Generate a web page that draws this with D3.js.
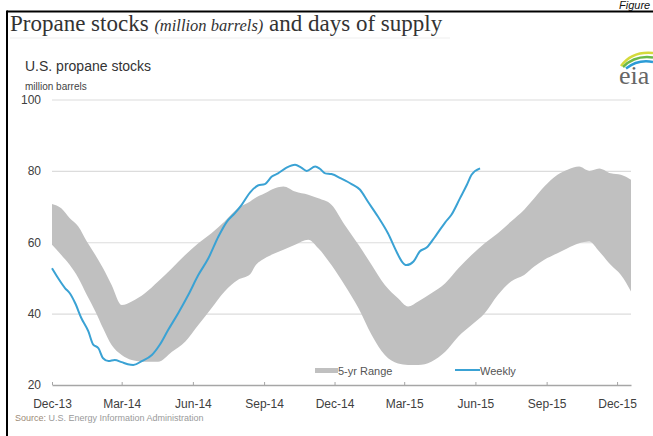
<!DOCTYPE html>
<html>
<head>
<meta charset="utf-8">
<script src="https://cdn.jsdelivr.net/npm/d3@7"></script>
<style>
  html, body { margin: 0; padding: 0; background: #fff; }
  svg { display: block; }
</style>
</head>
<body>
<svg id="chart" width="653" height="436"></svg>
<script>
// ---------------- DATA ----------------
const weeklyDates = [
  "2013-12-01","2013-12-09","2013-12-18","2013-12-24","2013-12-31",
  "2014-01-08","2014-01-17","2014-01-23","2014-01-30","2014-02-05",
  "2014-02-12","2014-02-20","2014-03-01","2014-03-09","2014-03-16",
  "2014-03-27","2014-04-09","2014-04-19","2014-04-30","2014-05-13",
  "2014-05-26","2014-06-08","2014-06-21","2014-07-04","2014-07-15",
  "2014-07-25","2014-08-03","2014-08-14","2014-08-24","2014-09-02",
  "2014-09-11","2014-09-19","2014-09-30","2014-10-11","2014-10-19",
  "2014-10-26","2014-11-06","2014-11-12","2014-11-19","2014-11-27",
  "2014-12-10","2014-12-23","2015-01-03","2015-01-13","2015-01-26",
  "2015-02-08","2015-02-19","2015-02-26","2015-03-04","2015-03-13",
  "2015-03-21","2015-03-30","2015-04-10","2015-04-23","2015-05-01",
  "2015-05-12","2015-05-21","2015-05-27","2015-06-07"
];
const weeklyValues = [
  52.7, 49.9, 47.1, 45.7, 42.9,
  38.7, 35.0, 31.4, 30.3, 27.5,
  26.7, 27.0, 26.4, 25.8, 25.6,
  26.7, 28.4, 31.2, 35.4, 40.1,
  45.2, 50.8, 55.5, 61.6, 65.8,
  68.1, 70.5, 74.0, 75.9, 76.3,
  78.4, 79.3, 80.9, 81.7, 80.9,
  80.0, 81.2, 80.6, 79.3, 79.1,
  77.8, 76.3, 74.7, 71.4, 67.2,
  62.5, 57.4, 54.6, 53.6, 54.6,
  57.4, 58.5, 61.6, 65.6, 67.7,
  72.3, 76.1, 78.9, 80.7
];

const rangeDates = [
  "2013-12-01","2013-12-13","2013-12-24","2014-01-04","2014-01-15",
  "2014-01-26","2014-02-05","2014-02-16","2014-03-01","2014-03-14",
  "2014-03-31","2014-04-17","2014-05-05","2014-05-22","2014-06-08",
  "2014-06-25","2014-07-12","2014-07-29","2014-08-14","2014-08-20",
  "2014-09-02","2014-09-15","2014-09-26","2014-10-11","2014-10-28",
  "2014-11-10","2014-11-27","2014-12-14","2015-01-01","2015-01-18",
  "2015-02-04","2015-02-21","2015-03-06","2015-03-19","2015-04-05",
  "2015-04-23","2015-05-10","2015-05-27","2015-06-13","2015-06-30",
  "2015-07-17","2015-08-03","2015-08-16","2015-08-29","2015-09-15",
  "2015-09-28","2015-10-13","2015-10-26","2015-11-08","2015-11-23",
  "2015-12-06","2015-12-19"
];
const rangeLow = [
  59.3, 56.4, 53.6, 50.0, 45.2,
  40.6, 35.9, 31.2, 28.4, 27.0,
  26.5, 26.5, 29.3, 32.1, 36.8,
  41.5, 46.2, 49.4, 51.0, 53.2,
  55.5, 56.9, 57.9, 59.3, 60.7,
  58.3, 53.6, 48.0, 41.5, 34.0,
  28.4, 26.0, 25.6, 25.6, 26.5,
  29.3, 33.6, 36.8, 40.1, 45.2,
  49.0, 50.8, 53.2, 55.1, 56.9,
  58.3, 59.7, 60.2, 57.4, 53.6,
  50.8, 46.2
];
const rangeHigh = [
  70.7, 69.5, 66.7, 64.4, 60.2,
  56.4, 52.7, 48.0, 42.4, 43.4,
  45.7, 49.0, 52.7, 56.4, 59.7,
  62.5, 65.8, 69.5, 71.4, 72.3,
  73.7, 75.1, 75.6, 74.2, 73.3,
  72.3, 70.5, 64.9, 59.3, 53.6,
  48.0, 44.3, 42.0, 43.4, 45.7,
  48.5, 52.7, 56.4, 59.7, 62.5,
  65.8, 69.1, 72.3, 75.6, 78.9,
  80.3, 81.2, 80.0, 80.7, 79.3,
  78.9, 77.5
];

const xTickDates  = ["2013-12-01","2014-03-01","2014-06-01","2014-09-01","2014-12-01",
                     "2015-03-01","2015-06-01","2015-09-01","2015-12-01"];
const xTickLabels = ["Dec-13","Mar-14","Jun-14","Sep-14","Dec-14",
                     "Mar-15","Jun-15","Sep-15","Dec-15"];
const yTicks = [20, 40, 60, 80, 100];
const xDomain = ["2013-12-01", "2015-12-19"];
const yDomain = [20, 100];

// ---------------- CHART ----------------
const parse = d3.timeParse("%Y-%m-%d");
const svg = d3.select("#chart");
const sans = "Arial, 'Liberation Sans', Helvetica, sans-serif";
const serif = "'Times New Roman', 'Liberation Serif', serif";

const L = 52, R = 631, T = 99.5, B = 385;
const x = d3.scaleTime().domain(xDomain.map(parse)).range([L, R]);
const y = d3.scaleLinear().domain(yDomain).range([B, T]);

svg.append("rect").attr("width", 653).attr("height", 436).attr("fill", "#fff");

// Frame
svg.append("line").attr("x1", 7).attr("x2", 653).attr("y1", 11.5).attr("y2", 11.5)
  .attr("stroke", "#000").attr("stroke-width", 2);
svg.append("line").attr("x1", 7).attr("x2", 7).attr("y1", 10.5).attr("y2", 436)
  .attr("stroke", "#000").attr("stroke-width", 2);

// "Figure" top right
svg.append("text").attr("x", 619).attr("y", 9)
  .attr("font-family", sans).attr("font-style", "italic").attr("font-size", 11)
  .attr("fill", "#111").text("Figure");

// Title
const title = svg.append("text").attr("x", 10).attr("y", 31)
  .attr("font-family", serif).attr("fill", "#333");
title.append("tspan").attr("font-size", 23).text("Propane stocks ");
title.append("tspan").attr("font-size", 16.5).attr("font-style", "italic").text("(million barrels)");
title.append("tspan").attr("font-size", 23).text(" and days of supply");

svg.append("line").attr("x1", 10).attr("x2", 450).attr("y1", 38).attr("y2", 38)
  .attr("stroke", "#efefef").attr("stroke-width", 1);

// Subtitle
svg.append("text").attr("x", 25).attr("y", 71)
  .attr("font-family", sans).attr("font-size", 14).attr("fill", "#333")
  .text("U.S. propane stocks");
svg.append("text").attr("x", 25).attr("y", 90)
  .attr("font-family", sans).attr("font-size", 10).attr("fill", "#444")
  .text("million barrels");

// EIA logo
const logo = svg.append("g");
logo.append("path").attr("d", "M621,66 Q632,51 653,53").attr("fill", "none")
  .attr("stroke", "#d4da3c").attr("stroke-width", 2.5);
logo.append("path").attr("d", "M623,67 Q635,55 653,57.5").attr("fill", "none")
  .attr("stroke", "#6cb94a").attr("stroke-width", 2.5);
logo.append("path").attr("d", "M626,68.5 Q638,59 653,62").attr("fill", "none")
  .attr("stroke", "#2b9bd6").attr("stroke-width", 2.5);
logo.append("text").attr("x", 619).attr("y", 84)
  .attr("font-family", serif).attr("font-size", 26).attr("fill", "#666").text("eia");

// Y gridlines + labels
const yAxis = d3.axisLeft(y).tickValues(yTicks).tickSize(-(R - L)).tickPadding(11)
  .tickFormat(d3.format("d"));
const gy = svg.append("g").attr("transform", `translate(${L},0)`).call(yAxis);
gy.select(".domain").remove();
gy.selectAll(".tick line").attr("stroke", "#dcdcdc").attr("stroke-width", 1.2)
  .filter(d => d === 20).remove();
gy.selectAll(".tick text").attr("font-family", sans).attr("font-size", 12).attr("fill", "#404040");

// Band (5-yr range)
const band = rangeDates.map((d, i) => ({ date: parse(d), lo: rangeLow[i], hi: rangeHigh[i] }));
svg.append("path").datum(band)
  .attr("fill", "#c0c0c0")
  .attr("d", d3.area().x(d => x(d.date)).y0(d => y(d.lo)).y1(d => y(d.hi)).curve(d3.curveMonotoneX));

// Weekly line
const weekly = weeklyDates.map((d, i) => ({ date: parse(d), v: weeklyValues[i] }));
svg.append("path").datum(weekly)
  .attr("fill", "none").attr("stroke", "#3aa2d4").attr("stroke-width", 2)
  .attr("stroke-linejoin", "round")
  .attr("d", d3.line().x(d => x(d.date)).y(d => y(d.v)).curve(d3.curveMonotoneX));

// X axis
const xAxis = d3.axisBottom(x).tickValues(xTickDates.map(parse))
  .tickFormat((d, i) => xTickLabels[i]).tickSizeInner(-3).tickSizeOuter(0).tickPadding(14);
const gx = svg.append("g").attr("transform", `translate(0,${B})`).call(xAxis);
gx.select(".domain").attr("stroke", "#a6a6a6").attr("stroke-width", 1.5);
gx.selectAll(".tick line").attr("stroke", "#a6a6a6");
gx.selectAll(".tick text").attr("font-family", sans).attr("font-size", 12).attr("fill", "#404040");

// Legend
svg.append("rect").attr("x", 315).attr("y", 368).attr("width", 23).attr("height", 5).attr("fill", "#c0c0c0");
svg.append("text").attr("x", 338).attr("y", 375)
  .attr("font-family", sans).attr("font-size", 11).attr("fill", "#555").text("5-yr Range");
svg.append("line").attr("x1", 455).attr("x2", 480).attr("y1", 370).attr("y2", 370)
  .attr("stroke", "#3aa2d4").attr("stroke-width", 2);
svg.append("text").attr("x", 480).attr("y", 375)
  .attr("font-family", sans).attr("font-size", 11).attr("fill", "#555").text("Weekly");

// Source
const src = svg.append("text").attr("x", 15).attr("y", 421)
  .attr("font-family", sans).attr("font-size", 9).attr("fill", "#9a9a9a");
src.append("tspan").attr("fill", "#9c8a76").text("Source: ");
src.append("tspan").text("U.S. Energy Information Administration");
</script>
</body>
</html>
